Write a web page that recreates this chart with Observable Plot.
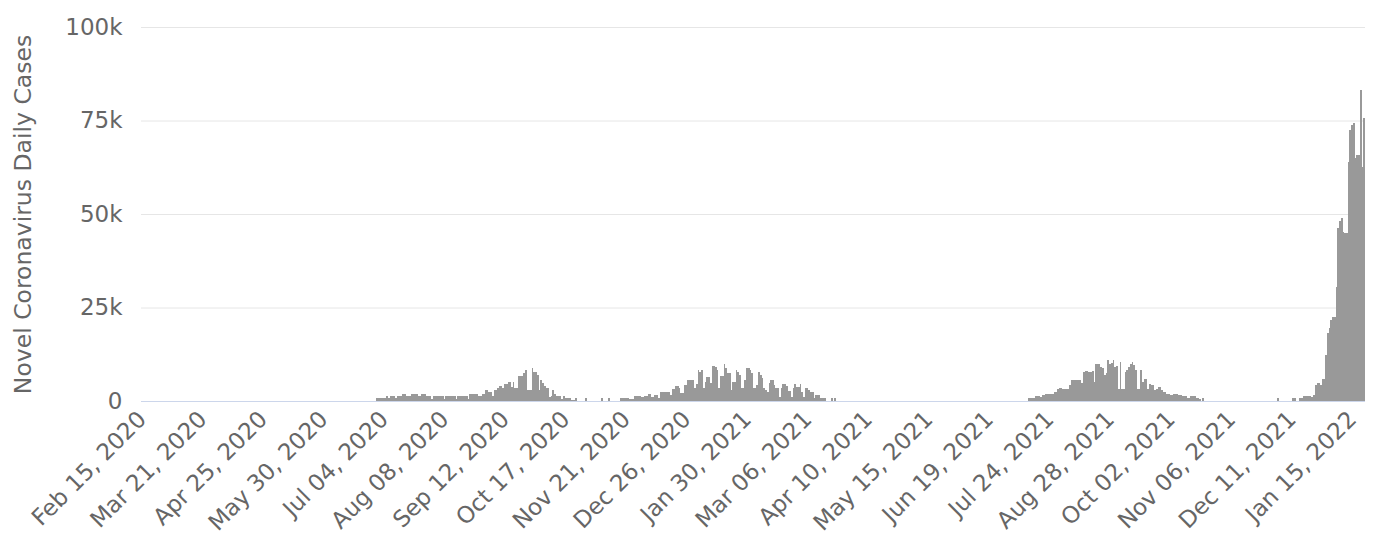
<!DOCTYPE html>
<html>
<head>
<meta charset="utf-8">
<script src="https://cdn.jsdelivr.net/npm/d3@7"></script>
<script src="https://cdn.jsdelivr.net/npm/@observablehq/plot@0.6"></script>
<style>
  html, body { margin: 0; padding: 0; background: #fff; }
  #chart svg { display: block; }
</style>
</head>
<body>
<div id="chart"></div>
<script>
// Daily new cases (in thousands), one value per day starting 2020-02-15
const startDate = "2020-02-15";

// 2020-02-15 .. 2020-12-31
const cases2020 = [
  0,0,0,0,0,0,0,0,0,0,
  0,0,0,0,0,0,0,0,0,0,
  0,0,0,0,0,0,0,0,0,0,
  0,0,0,0,0,0,0,0,0,0,
  0,0,0,0,0,0,0,0,0,0,
  0,0,0,0,0,0,0,0,0,0,
  0,0,0,0,0,0,0,0,0,0,
  0,0,0,0,0,0,0,0,0,0,
  0,0,0,0,0,0,0,0,0,0,
  0,0,0,0,0,0,0,0,0,0,
  0,0,0,0,0,0,0,0,0,0,
  0,0,0,0,0,0,0,0,0,0,
  0,0,0,0,0,0,0,0,0,0,
  0,0,0,0,0,0,0.7,0.7,0.7,0.7,
  0.7,0.7,1.3,0.9,1.3,1.3,1.3,0.9,1.4,1.4,
  1.4,1.8,1.8,1.4,1.4,1.4,1.9,1.9,1.9,1.9,
  1.4,1.4,1.9,1.9,1.9,1.4,1.4,1.4,0.5,1.4,
  1.4,1.4,1.4,1.4,1.4,0.5,1.4,1.4,1.4,1.4,
  1.4,1.4,0.5,1.4,1.4,1.4,1.4,1.4,1.4,0.5,
  1.9,1.9,1.9,1.9,1.9,1.3,1.3,1.9,1.9,3.0,
  3.0,2.4,2.4,1.4,3.0,3.0,3.6,4.1,4.1,3.4,
  4.6,4.6,5.0,5.0,3.7,5.0,3.4,3.4,6.8,6.8,
  6.8,7.4,8.3,2.9,2.9,2.9,8.7,7.8,7.8,7.0,
  2.9,5.6,4.7,4.0,3.4,3.4,1.0,1.4,2.9,1.8,
  1.4,1.4,1.4,0.45,1.3,0.7,0.7,0.7,0.7,0.2,
  0.2,0.7,0,0,0,0,0,0.7,0,0,
  0,0,0,0,0,0,0.7,0,0,0,
  0.7,0,0,0,0,0,0,0.7,0.7,0.7,
  0.7,0.7,0.6,0.6,0.6,1.3,1.3,1.3,1.3,1.1,
  1.1,1.3,1.3,1.8,1.8,1.1,1.1,1.7,1.7,0.9,
  2.3,2.3,2.3,2.5,2.5,2.5,1.7,3.2,3.2,4.0,
  4.0,3.6,2.1,2.1,4.3,4.3,5.6,5.6,5.5,5.6,
  3.4
];

// 2021-01-01 .. 2021-12-31
const cases2021 = [
  4.5,8.3,7.8,8.3,3.4,5.2,6.5,6.5,4.7,9.4,
  9.4,9.0,8.3,3.4,6.7,6.7,9.9,8.7,7.4,7.4,
  2.9,5.2,5.2,8.3,7.8,7.0,3.4,3.4,5.6,8.9,
  8.9,8.2,7.4,3.4,3.4,4.3,7.8,7.0,6.1,3.4,
  3.0,2.5,4.7,5.6,5.6,4.3,3.4,3.4,1.1,3.4,
  4.5,4.5,4.0,2.7,2.7,1.1,3.4,4.5,3.8,3.8,
  4.5,2.5,1.1,3.4,3.4,2.9,2.5,2.5,0.9,1.6,
  1.7,1.7,0.9,0.9,0.7,0,0,0,0.7,0,
  0.7,0,0,0,0,0,0,0,0,0,
  0,0,0,0,0,0,0,0,0,0,
  0,0,0,0,0,0,0,0,0,0,
  0,0,0,0,0,0,0,0,0,0,
  0,0,0,0,0,0,0,0,0,0,
  0,0,0,0,0,0,0,0,0,0,
  0,0,0,0,0,0,0,0,0,0,
  0,0,0,0,0,0,0,0,0,0,
  0,0,0,0,0,0,0,0,0,0,
  0,0,0,0,0,0,0,0,0,0,
  0,0,0,0,0,0,0,0,0,0,
  0,0,0.8,0.8,0.8,0.8,1.4,1.4,1.3,1.1,
  1.5,1.5,1.9,1.9,1.9,1.9,1.9,2.4,2.3,3.3,
  3.5,3.5,3.3,3.2,3.3,3.3,4.2,5.5,5.6,5.5,
  5.5,5.6,5.5,4.8,7.8,7.9,8.0,7.8,7.8,7.9,
  5.2,9.9,9.9,9.9,9.0,8.7,6.9,7.5,10.9,9.9,
  10.2,10.9,9.1,9.4,3.1,10.4,3.1,3.1,7.8,8.2,
  9.1,10.0,10.4,9.7,8.4,3.1,3.1,8.2,5.1,6.0,
  6.0,3.3,4.6,4.2,4.2,2.9,3.3,3.7,3.7,2.9,
  2.4,2.4,2.0,2.0,1.5,1.5,2.0,2.0,2.0,1.7,
  1.7,1.3,1.3,1.3,0.8,0.8,1.3,1.3,1.3,0.8,
  0.8,0.5,0,0.7,0,0,0,0,0,0,
  0,0,0,0,0,0,0,0,0,0,
  0,0,0,0,0,0,0,0,0,0,
  0,0,0,0,0,0,0,0,0,0,
  0,0,0,0,0,0,0.9,0,0,0,
  0,0,0,0,0,0.9,0.9,0,0,0.9,
  0.9,1.3,1.3,1.3,1.3,1.3,1.0,1.6,4.3,4.7,
  4.7,4.3,6.0,6.0,12.3
];

// 2022-01-01 .. 2022-01-22
const cases2022 = [
  18.1,19.4,21.7,22.5,22.5,30.6,46.2,48.0,48.8,45.3,
  45.0,44.8,64.0,72.5,73.8,74.2,64.9,65.8,65.8,83.2,
  62.6,75.6
];

const yTicks = [0, 25000, 50000, 75000, 100000];
const yTickLabels = ["0", "25k", "50k", "75k", "100k"];
const xTickDates = [
  "2020-02-15","2020-03-21","2020-04-25","2020-05-30","2020-07-04",
  "2020-08-08","2020-09-12","2020-10-17","2020-11-21","2020-12-26",
  "2021-01-30","2021-03-06","2021-04-10","2021-05-15","2021-06-19",
  "2021-07-24","2021-08-28","2021-10-02","2021-11-06","2021-12-11",
  "2022-01-15"
];
const yTitle = "Novel Coronavirus Daily Cases";

const allK = [...cases2020, ...cases2021, ...cases2022];
const t0 = new Date(startDate + "T00:00:00Z").getTime();
const data = allK.map((v, i) => ({date: new Date(t0 + i * 864e5), cases: v * 1000}));
const ticks = xTickDates.map(s => new Date(s + "T00:00:00Z"));
const fmt = d3.utcFormat("%b %d, %Y");
const FONT = "DejaVu Sans";

const chart = Plot.plot({
  width: 1382,
  height: 553,
  marginLeft: 141,
  marginRight: 17,
  marginTop: 27,
  marginBottom: 152,
  style: {fontFamily: FONT, color: "#666666", background: "#ffffff", overflow: "visible"},
  x: {type: "band", domain: data.map(d => d.date), padding: 0, round: false},
  y: {domain: [0, 100000]},
  marks: [
    Plot.gridY(yTicks.slice(1), {stroke: "#e6e6e6", strokeOpacity: 1}),
    Plot.barY(data, {x: "date", y: "cases", fill: "#999999", shapeRendering: "crispEdges"}),
    Plot.ruleY([0], {stroke: "#ccd6eb", strokeWidth: 1}),
    Plot.axisY({
      ticks: yTicks,
      tickFormat: d => yTickLabels[yTicks.indexOf(d)],
      tickSize: 0,
      tickPadding: 19,
      fontSize: 23,
      fill: "#666666",
      label: null
    }),
    Plot.axisY({
      ticks: [],
      tickSize: 0,
      fontSize: 23.5,
      fill: "#666666",
      label: yTitle,
      labelAnchor: "center",
      labelOffset: 127,
      labelArrow: false
    }),
    Plot.axisX({
      ticks: ticks,
      tickFormat: fmt,
      tickRotate: -45,
      tickSize: 0,
      tickPadding: 14,
      fontSize: 23,
      fill: "#666666",
      label: null
    })
  ]
});
document.getElementById("chart").appendChild(chart);
</script>
</body>
</html>
